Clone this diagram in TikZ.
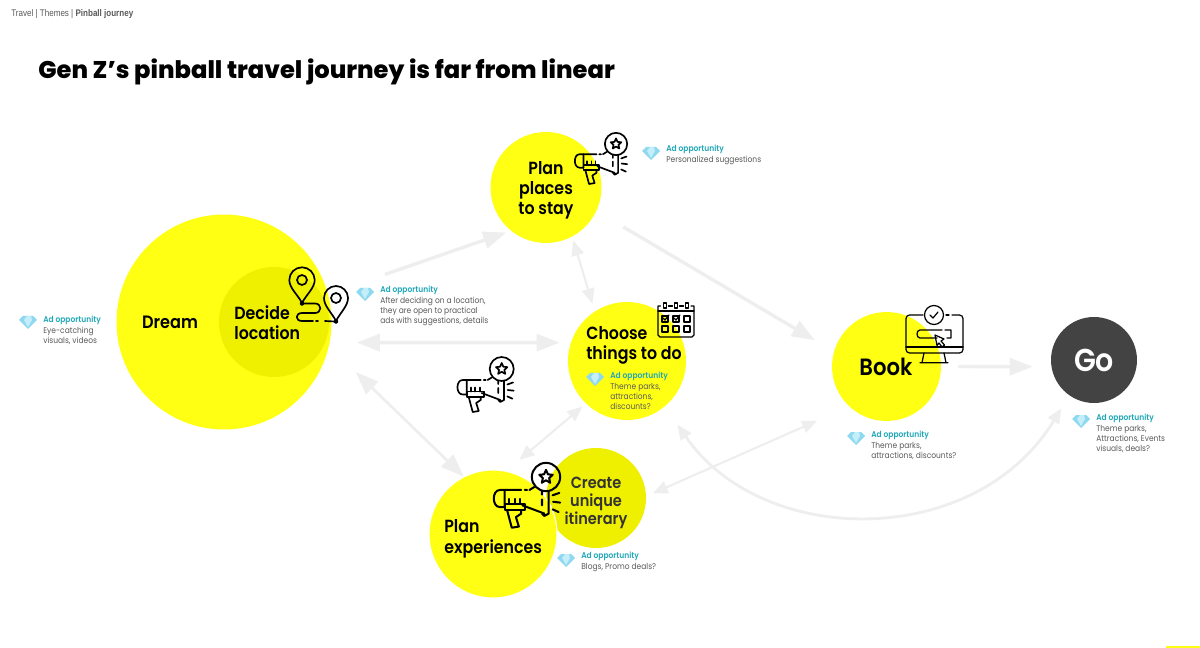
\documentclass[tikz,border=0pt]{standalone}
\usepackage{fontspec}
\setmainfont{Poppins}[FakeStretch=0.9, BoldFont={Poppins SemiBold}]
\newfontfamily\crumbfont{Liberation Sans}[FakeStretch=0.84]
\newfontfamily\titlefont{Poppins}[BoldFont={Poppins ExtraBold}]
\usetikzlibrary{shapes, arrows.meta, positioning, calc}
\definecolor{stepyellow}{HTML}{FFFF14}
\definecolor{stepolive}{HTML}{EFEF00}
\definecolor{goslate}{HTML}{434343}
\definecolor{flowgray}{HTML}{EEEEEE}
\definecolor{adteal}{HTML}{1FA7B8}
\definecolor{adgray}{HTML}{5A5A5A}
\definecolor{gemblue}{HTML}{8FD9F0}
\definecolor{gemlight}{HTML}{C4EEF9}

\tikzset{
	megaphone/.pic={
		\draw[icon] (0,0) circle[radius=12];
		\draw[icon] (0,-6) -- (1.65,-2.27) -- (5.7,-1.85) -- (2.66,.87) -- (3.53,4.85) -- (0,2.8) -- (-3.53,4.85) -- (-2.66,.87) -- (-5.7,-1.85) -- (-1.65,-2.27) -- cycle;
		\draw[icon] (-35,11) -- (-39,11) .. controls (-46,11) and (-46,25.5) .. (-39,25.5) -- (-35,25.5) -- cycle;
		\draw[icon] (-35,11) -- (-21,11) (-18,11) -- (-16,11) (-14,11) -- (-10,8.5);
		\draw[icon] (-3.4,12) -- (-3.4,15) (-3.4,19) -- (-3.4,24) (2.3,12) -- (2.3,31) -- (-1.4,33) -- (-3.4,31) (-1.4,31) -- (-20,24);
		\draw[icon] (-35,22.6) rectangle (-18,28) (-31,22.6) -- (-31,18.5) (-26.5,22.6) -- (-26.5,18.5) (-22,22.6) -- (-22,18.5);
		\draw[icon] (-33,28) -- (-29,43) -- (-23,42) -- (-25.5,34) -- (-21,31) -- (-21,28);
		\draw[icon] (5.6,15.5) -- (11.3,13.5) (6,21) -- (12,21.7) (5.6,27.4) -- (10.7,29.7);
	},
	pinroute/.pic={
		\draw[icon] (0,23) .. controls (-4,15) and (-12.7,8) .. (-12.7,0) arc[start angle=180, end angle=360, radius=12.7] .. controls (12.7,8) and (4,15) .. (0,23);
		\draw[icon] (0,0) circle[radius=5];
		\draw[icon] (0,23.5) circle[radius=1.6];
		\draw[icon] (34,41) .. controls (30,33) and (22,26) .. (22,18) arc[start angle=180, end angle=360, radius=12] .. controls (46,26) and (38,33) .. (34,41);
		\draw[icon] (34,18) circle[radius=5];
		\draw[icon] (34,41.5) circle[radius=1.6];
		\draw[icon] (1.6,23.5) -- (13,23.5) .. controls (20,23.5) and (20,33) .. (13,33) -- (0,33) .. controls (-7,33) and (-7,41) .. (0,41) -- (11,41) (14,41) -- (16,41) (23,41) -- (32.4,41.5);
	},
	calendar/.pic={
		\draw[icon] (2.5,2) -- (0,2) -- (0,31) -- (2,33) -- (34,33) -- (36,31) -- (36,2) -- (33,2);
		\draw[icon] (10.5,2) -- (14.5,2) (21.5,2) -- (25.5,2) (0,7) -- (36,7);
		\draw[icon] (5.5,-1) rectangle (8.5,4) (16.5,-1) rectangle (19.5,4) (27.5,-1) rectangle (30.5,4);
		\draw[icon] (4,12) rectangle (10,18) (15,12) rectangle (21,18) (26,12) rectangle (32,18);
		\draw[icon] (4,22) rectangle (10,28) (15,22) rectangle (21,28) (26,22) rectangle (32,28);
		\draw[icon] (5,14) -- (7,16) -- (11,11) (16,14) -- (18,16) -- (22,11);
	},
	monitor/.pic={
		\draw[icon] (0,0) circle[radius=9.5];
		\draw[icon] (-4,0) -- (-1,3) -- (4,-3);
		\draw[icon, rounded corners=2] (-11,0) -- (-28,0) -- (-28,38) -- (29,38) -- (29,0) -- (18,0);
		\draw[icon] (15,0) -- (12,0) (-28,32) -- (29,32);
		\draw[icon] (-10,38) -- (-12,47.7) (10,38) -- (12,47.7) (-14,47.7) -- (14,47.7);
		\draw[icon] (3,23) -- (-14,23) .. controls (-18,23) and (-18,15) .. (-14,15) -- (8,15) (11,15) -- (17,15) -- (17,23) -- (13,23);
		\draw[icon] (1,20) -- (10,24) -- (7,26) -- (10.5,30) -- (8,32) -- (5,28) -- (3,30.5) -- cycle;
	},
	gem/.pic={
		\fill[gemblue] (-9,-2) -- (-5,-6) -- (5,-6) -- (9,-2) -- (0,7) -- cycle;
		\fill[gemlight] (-4,-2) -- (-1,-6) -- (3,-6) -- (4,-2) -- (0,5) -- cycle;
	}
}

\begin{document}
\begin{tikzpicture}[
		x=0.02cm, y=-0.02cm,
		bubble/.style={circle, fill=stepyellow, inner sep=0pt},
		stepname/.style={align=center, inner sep=0pt, text=black, font=\fontsize{10}{11.6}\selectfont\bfseries},
		stepleft/.style={stepname, align=left, anchor=west},
		adnote/.style={align=left, anchor=north west, inner sep=0pt, text=adgray, font=\fontsize{4.75}{5.85}\selectfont},
		icon/.style={draw=black, line width=0.95pt, line cap=round, line join=round},
		flow/.style={{Triangle[length=0.3cm, width=0.25cm]}-{Triangle[length=0.3cm, width=0.25cm]}, draw=flowgray, line width=1.2pt},
		flowbig/.style={{Triangle[length=0.46cm, width=0.34cm]}-{Triangle[length=0.46cm, width=0.34cm]}, draw=flowgray, line width=1.9pt},
		flowone/.style={-{Triangle[length=0.46cm, width=0.34cm]}, draw=flowgray, line width=1.9pt}
		]
		
		\useasboundingbox (0,0) rectangle (1200,648);
		\fill[white] (0,0) rectangle (1200,648);
		\fill[stepyellow] (1166,646) rectangle (1200,648);
		
		\node[anchor=west, inner sep=0pt, text=adgray, font=\fontsize{5.45}{6}\selectfont\crumbfont] (crumb) at (11,14.5) {Travel | Themes | \textbf{Pinball journey}};
		\node[anchor=west, inner sep=0pt, font=\fontsize{13.75}{16}\selectfont\titlefont\bfseries] (headline) at (38,71.5) {Gen Z’s pinball travel journey is far from linear};
		
		\node[bubble, minimum size=4.3cm] (dream) at (224,322) {};
		\node[bubble, fill=stepolive, minimum size=2.2cm] (decide) at (274,322) {};
		\node[bubble, minimum size=2.22cm] (places) at (546,187.5) {};
		\node[bubble, minimum size=2.36cm] (choose) at (627,361) {};
		\node[bubble, minimum size=2.18cm] (book) at (886.5,366.5) {};
		\node[bubble, fill=goslate, minimum size=1.72cm] (go) at (1094,360) {};
		\node[bubble, fill=stepolive, minimum size=2cm] (create) at (596,498) {};
		\node[bubble, draw=white, line width=0.6pt, minimum size=2.56cm] (experiences) at (493,534) {};
		
		\draw[flowone] (dream.15) [shorten <=1.2cm, shorten >=0.1cm] -- (places.231);
		\draw[flowone] (places.-25) [shorten <=0.62cm, shorten >=0.44cm] -- (book.164);
		\draw[flow] (places.-62) [shorten <=0.08cm, shorten >=0.16cm] -- (choose.123.5);
		\draw[flowbig] (dream.-11.3) [shorten <=0.54cm, shorten >=0.22cm] -- (choose.162.2);
		\draw[flowbig, line width=1.5pt] (dream.-13) [shorten <=0.74cm] -- (experiences.117.3);
		\draw[flow] (experiences.78) [shorten <=0.34cm, shorten >=0.09cm] -- (choose.226);
		\draw[flowone] (book.0) [shorten <=0.34cm, shorten >=0.37cm] -- (go.189.4);
		\draw[flow, line width=1.6pt] (choose.-50) [shorten <=0.44cm, shorten >=0.3cm] .. controls (762,548) and (975,550) .. (go.235);
		\draw[flow] (create.2) [shorten <=0.14cm, shorten >=0.7cm] -- (book.227.6);
		
		\node[stepname, font=\fontsize{10.2}{11.6}\selectfont\bfseries] (dreamname) at (170,322.5) {Dream};
		\node[stepleft] (decidename) at (234,322.5) {Decide\\location};
		\node[stepname, font=\fontsize{10}{11.4}\selectfont\bfseries] (placesname) at (546,190) {Plan\\places\\to stay};
		\node[stepleft] (choosename) at (586,345.5) {Choose\\things to do};
		\node[stepname, font=\fontsize{13.4}{14}\selectfont\bfseries] (bookname) at (886,367) {Book};
		\node[stepname, text=white, font=\fontsize{18}{19}\selectfont\bfseries] (goname) at (1094,360) {Go};
		\node[stepname, text=black!80, font=\fontsize{9.2}{10.2}\selectfont\bfseries] (createname) at (596,502.5) {Create\\unique\\itinerary};
		\node[stepleft] (experiencesname) at (444,539) {Plan\\experiences};
		
		\pic (dreamgem) at (28,322) {gem};
		\pic (decidegem) at (365,294) {gem};
		\pic (placesgem) at (651,153) {gem};
		\pic (choosegem) at (595,379) {gem};
		\pic (bookgem) at (856,438) {gem};
		\pic (gogem) at (1081,421) {gem};
		\pic (experiencesgem) at (566,560) {gem};
		
		\node[adnote] (dreamad) at (43,316) {\textcolor{adteal}{\textbf{Ad opportunity}}\\Eye-catching\\visuals, videos};
		\node[adnote] (decidead) at (380,286) {\textcolor{adteal}{\textbf{Ad opportunity}}\\After deciding on a location,\\they are open to practical\\ads with suggestions, details};
		\node[adnote] (placesad) at (666,145) {\textcolor{adteal}{\textbf{Ad opportunity}}\\Personalized suggestions};
		\node[adnote] (choosead) at (610,372) {\textcolor{adteal}{\textbf{Ad opportunity}}\\Theme parks,\\attractions,\\discounts?};
		\node[adnote] (bookad) at (871,431) {\textcolor{adteal}{\textbf{Ad opportunity}}\\Theme parks,\\attractions, discounts?};
		\node[adnote] (goad) at (1096,414) {\textcolor{adteal}{\textbf{Ad opportunity}}\\Theme parks,\\Attractions, Events\\visuals, deals?};
		\node[adnote] (experiencesad) at (581,552) {\textcolor{adteal}{\textbf{Ad opportunity}}\\Blogs, Promo deals?};
		
		\pic[scale=0.93] (placesmega) at (616,144) {megaphone};
		\pic (loosemega) at (501.7,369) {megaphone};
		\pic[scale=1.18, icon/.append style={line width=1.15pt}] (experiencesmega) at (546,477) {megaphone};
		\pic (decidepins) at (302,280) {pinroute};
		\pic[icon/.append style={line width=0.7pt}] (choosecal) at (658,304) {calendar};
		\pic[icon/.append style={line width=0.7pt}] (bookscreen) at (934,315) {monitor};
		
\end{tikzpicture}
\end{document}
